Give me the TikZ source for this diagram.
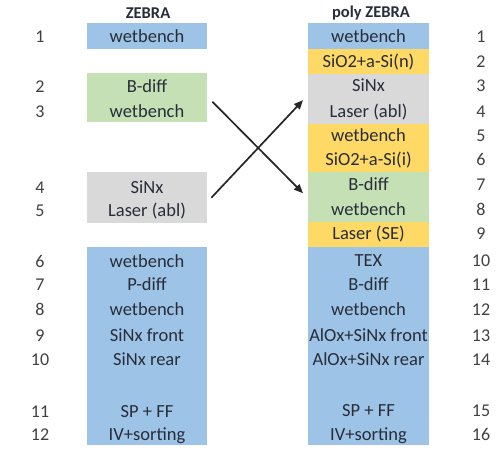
\documentclass[tikz,border=0pt]{standalone}
\usepackage{fontspec}
\setmainfont{Carlito}
\usetikzlibrary{arrows.meta, positioning}
\definecolor{stageblue}{RGB}{157, 195, 230}
\definecolor{stagegreen}{RGB}{197, 224, 180}
\definecolor{stagegray}{RGB}{217, 217, 217}
\definecolor{stageyellow}{RGB}{255, 217, 102}
\definecolor{rowtext}{RGB}{40, 45, 58}
\definecolor{numgray}{RGB}{65, 65, 65}

\begin{document}
\begin{tikzpicture}[x=1pt, y=-1pt,
    stage/.style={inner sep=0pt, minimum width=120pt, anchor=north west},
    row/.style={font=\fontsize{18.5}{20}\selectfont, text=rowtext, inner sep=0pt,
                text height=12pt, text depth=4pt, yshift=-1pt},
    num/.style={font=\fontsize{18}{20}\selectfont, text=numgray, inner sep=0pt,
                text height=12pt, text depth=4pt, yshift=-1pt},
    title/.style={font=\fontsize{16.5}{18}\selectfont\bfseries, text=rowtext},
    arr/.style={-{Triangle[length=9pt, width=7.5pt]}, line width=1.7pt, black!85}
  ]
  \useasboundingbox (0,0) rectangle (500,461);

  % ZEBRA
  \node[title] (zebra) at (148,13) {ZEBRA};
  \node[stage, fill=stageblue, minimum height=26pt] (lwet) at (87,23) {};
  \node[stage, fill=stagegreen, minimum height=49pt] (lbdiff) at (87,73) {};
  \node[stage, fill=stagegray, minimum height=51pt] (lsinx) at (87,172) {};
  \node[stage, fill=stageblue, minimum height=198pt] (lrest) at (87,247) {};

  \foreach \n/\y/\t in {1/37/wetbench, 2/87/B-diff, 3/112/wetbench, 4/188/SiNx,
      5/211/Laser (abl), 6/262/wetbench, 7/285/P-diff, 8/310/wetbench,
      9/336/SiNx front, 10/360/SiNx rear, 11/412/SP + FF, 12/435/IV+sorting} {
    \node[num] (lnum\n) at (40,\y) {\n};
    \node[row] (lrow\n) at (147,\y) {\t};
  }

  % poly ZEBRA
  \node[title] (polyzebra) at (371,13) {poly ZEBRA};
  \node[stage, fill=stageblue, minimum width=121pt, minimum height=26pt] (rwet) at (308,23) {};
  \node[stage, fill=stageyellow, minimum width=121pt, minimum height=25pt] (rsio) at (308,49) {};
  \node[stage, fill=stagegray, minimum width=121pt, minimum height=50pt] (rsinx) at (308,74) {};
  \node[stage, fill=stageyellow, minimum width=121pt, minimum height=48pt] (rsioi) at (308,124) {};
  \node[stage, fill=stagegreen, minimum width=121pt, minimum height=50pt] (rbdiff) at (308,172) {};
  \node[stage, fill=stageyellow, minimum width=121pt, minimum height=25pt] (rlaser) at (308,222) {};
  \node[stage, fill=stageblue, minimum width=121pt, minimum height=198pt] (rrest) at (308,247) {};

  \foreach \n/\y/\t in {1/37/wetbench, 2/62/SiO2+a-Si(n), 3/86/SiNx, 4/112/Laser (abl),
      5/136/wetbench, 6/160/SiO2+a-Si(i), 7/185/B-diff, 8/210/wetbench,
      9/234/Laser (SE), 10/261/TEX, 11/285/B-diff, 12/310/wetbench,
      13/336/AlOx+SiNx front, 14/360/AlOx+SiNx rear, 15/411/SP + FF, 16/435/IV+sorting} {
    \node[num] (rnum\n) at (481,\y) {\n};
    \node[row] (rrow\n) at (368.5,\y) {\t};
  }

  % swapped steps
  \draw[arr] ([xshift=5pt, yshift=-4pt]lbdiff.east) -- ([xshift=-5pt, yshift=4pt]rbdiff.west);
  \draw[arr] ([xshift=4pt]lsinx.east) -- ([xshift=-5pt, yshift=-1pt]rsinx.west);
\end{tikzpicture}
\end{document}
